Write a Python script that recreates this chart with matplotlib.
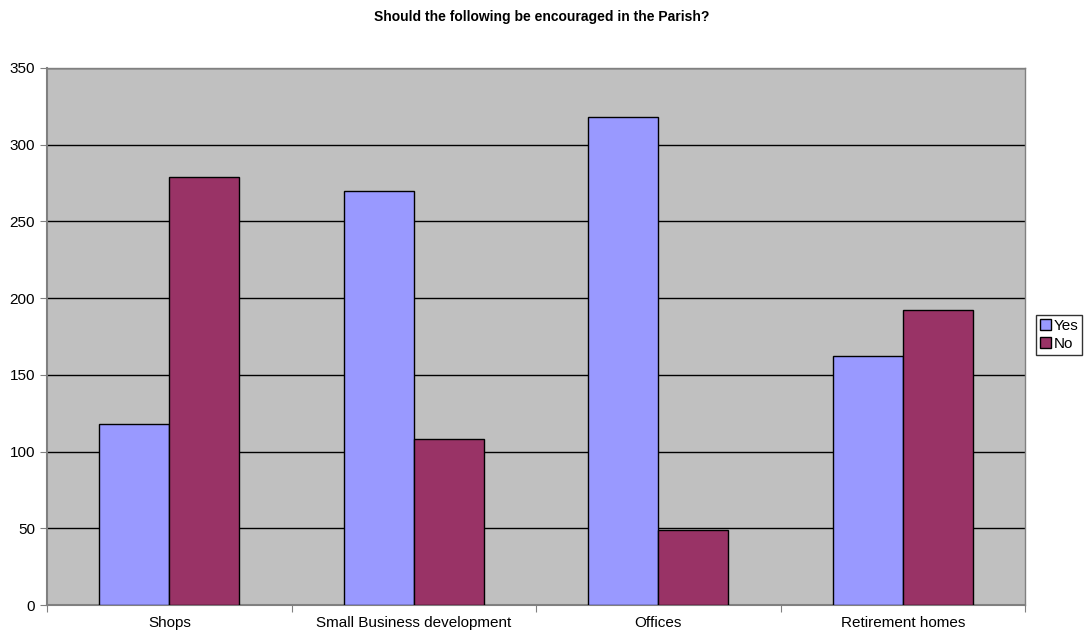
import numpy as np
import matplotlib.pyplot as plt

categories = ["Shops", "Small Business development", "Offices", "Retirement homes"]
yes_vals = [118, 270, 318, 162]
no_vals = [279, 108, 49, 192]

plt.rcParams['font.family'] = ['Liberation Sans', 'DejaVu Sans']


def main():
    fig = plt.figure(figsize=(10.84, 6.39), dpi=100)
    ax = fig.add_axes([0.0434, 0.0532, 0.9023, 0.8404])
    ax.set_facecolor('#c0c0c0')

    x = np.arange(len(categories))
    w = 0.286
    ax.bar(x - w / 2, yes_vals, w, color='#9999ff', edgecolor='black', linewidth=1, label='Yes', zorder=3)
    ax.bar(x + w / 2, no_vals, w, color='#993366', edgecolor='black', linewidth=1, label='No', zorder=3)

    ax.set_ylim(0, 350)
    ax.set_yticks(np.arange(0, 351, 50))
    ax.yaxis.grid(True, color='black', linewidth=1, zorder=1)
    ax.set_axisbelow(True)

    ax.set_xlim(-0.5, len(categories) - 0.5)
    ax.set_xticks(np.arange(-0.5, len(categories)))
    ax.set_xticklabels([])
    ax.set_xticks(x, minor=True)
    ax.set_xticklabels(categories, minor=True)
    ax.tick_params(axis='x', which='minor', length=0, pad=8, labelsize=11)
    ax.tick_params(axis='x', which='major', length=5, color='#808080')
    ax.tick_params(axis='y', length=5, color='#808080', labelsize=11)

    for s in ax.spines.values():
        s.set_color('#808080')
        s.set_linewidth(1)
    ax.spines['left'].set_linewidth(1.5)
    ax.spines['bottom'].set_linewidth(1.5)

    fig.suptitle("Should the following be encouraged in the Parish?", x=0.5, y=0.985,
                 fontsize=10, fontweight='bold')

    leg = fig.legend(loc='center left', bbox_to_anchor=(0.956, 0.476), fontsize=11,
                     frameon=True, fancybox=False, edgecolor='black', borderpad=0.25,
                     handlelength=0.7, handleheight=0.7, handletextpad=0.2,
                     labelspacing=0.3, borderaxespad=0)
    leg.get_frame().set_linewidth(1)

    fig.savefig('out.png', dpi=100, facecolor='white')


if __name__ == "__main__":
    main()
